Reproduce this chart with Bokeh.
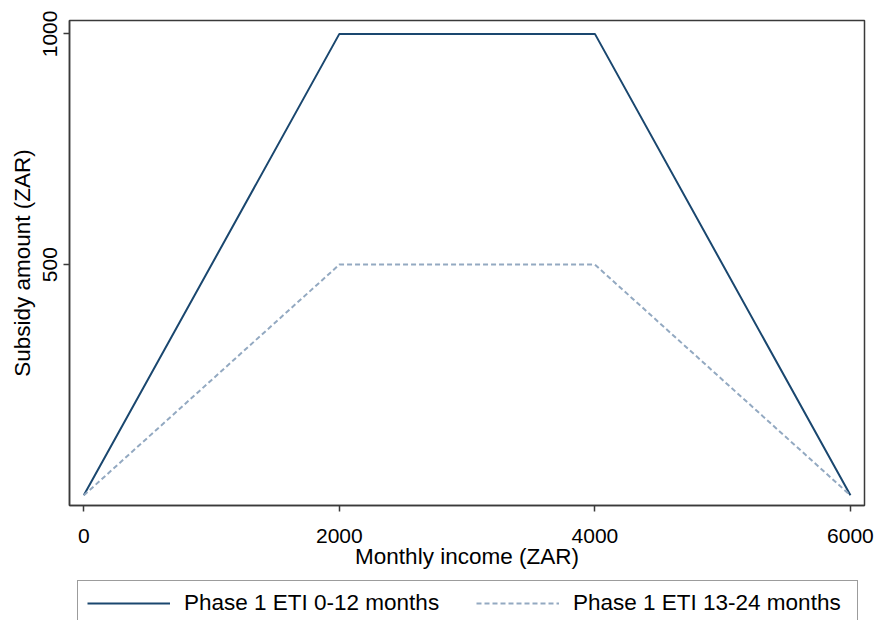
from bokeh.plotting import figure
from bokeh.models import Range1d, Legend, LegendItem, FixedTicker
from bokeh.layouts import column
from bokeh.embed import file_html
from bokeh.resources import INLINE

# Data
income = [0, 2000, 4000, 6000]
subsidy_0_12 = [0, 1000, 1000, 0]
subsidy_13_24 = [0, 500, 500, 0]
x_ticks = [0, 2000, 4000, 6000]
y_ticks = [500, 1000]
labels = ["Phase 1 ETI 0-12 months", "Phase 1 ETI 13-24 months"]

FONT = "Liberation Sans"
DARK = "#3a3a3a"
C1 = "#1a476f"
C2 = "#93a9c1"

p = figure(frame_width=795, frame_height=485, output_backend="svg", toolbar_location=None,
           x_range=Range1d(-112, 6110), y_range=Range1d(-22, 1029),
           min_border_left=69, min_border_right=10, min_border_top=20,
           min_border_bottom=71)
p.background_fill_color = "white"
p.border_fill_color = "white"
p.outline_line_color = DARK
p.outline_line_width = 1.5
p.xgrid.visible = False
p.ygrid.visible = False

p.line(income, subsidy_0_12, line_color=C1, line_width=2)
p.line(income, subsidy_13_24, line_color=C2, line_width=2, line_dash="5 3")

for ax in (p.xaxis[0], p.yaxis[0]):
    ax.axis_line_color = DARK
    ax.axis_line_width = 1.5
    ax.major_tick_line_color = DARK
    ax.major_tick_line_width = 1.5
    ax.major_tick_out = 6
    ax.major_tick_in = 0
    ax.minor_tick_line_color = None
    ax.major_label_text_font = FONT
    ax.major_label_text_font_size = "21px"
    ax.major_label_text_color = "black"
    ax.axis_label_text_font = FONT
    ax.axis_label_text_font_size = "22.5px"
    ax.axis_label_text_font_style = "normal"
    ax.axis_label_text_color = "black"

p.xaxis[0].ticker = FixedTicker(ticks=x_ticks)
p.yaxis[0].ticker = FixedTicker(ticks=y_ticks)
p.xaxis[0].axis_label = "Monthly income (ZAR)"
p.yaxis[0].axis_label = "Subsidy amount (ZAR)"
p.xaxis[0].major_label_standoff = 17
p.xaxis[0].axis_label_standoff = -2
p.yaxis[0].major_label_standoff = 6
p.yaxis[0].axis_label_standoff = 6
p.yaxis[0].major_label_orientation = "vertical"

# Legend strip below the plot
lg = figure(width=874, height=44, output_backend="svg", toolbar_location=None,
            x_range=Range1d(10000, 10001), y_range=Range1d(10000, 10001),
            min_border=0, x_axis_type=None, y_axis_type=None)
lg.outline_line_color = None
lg.xgrid.visible = False
lg.ygrid.visible = False
lg.background_fill_color = "white"
lg.border_fill_color = "white"
l1 = lg.line(income, subsidy_0_12, line_color=C1, line_width=2)
l2 = lg.line(income, subsidy_13_24, line_color=C2, line_width=2, line_dash="5 3")

legend = Legend(items=[LegendItem(label=labels[0], renderers=[l1]),
                       LegendItem(label=labels[1], renderers=[l2])],
                location=(8, -6), orientation="horizontal",
                glyph_width=83, glyph_height=20, label_standoff=14,
                label_width=275, spacing=17, padding=9, margin=0,
                border_line_color=DARK, border_line_width=1.5,
                label_text_font=FONT, label_text_font_size="22.5px",
                label_text_color="black",
                background_fill_color="white", background_fill_alpha=1)
lg.add_layout(legend)

layout = column(p, lg, spacing=0)
open("out.html", "w").write(file_html(layout, INLINE))
